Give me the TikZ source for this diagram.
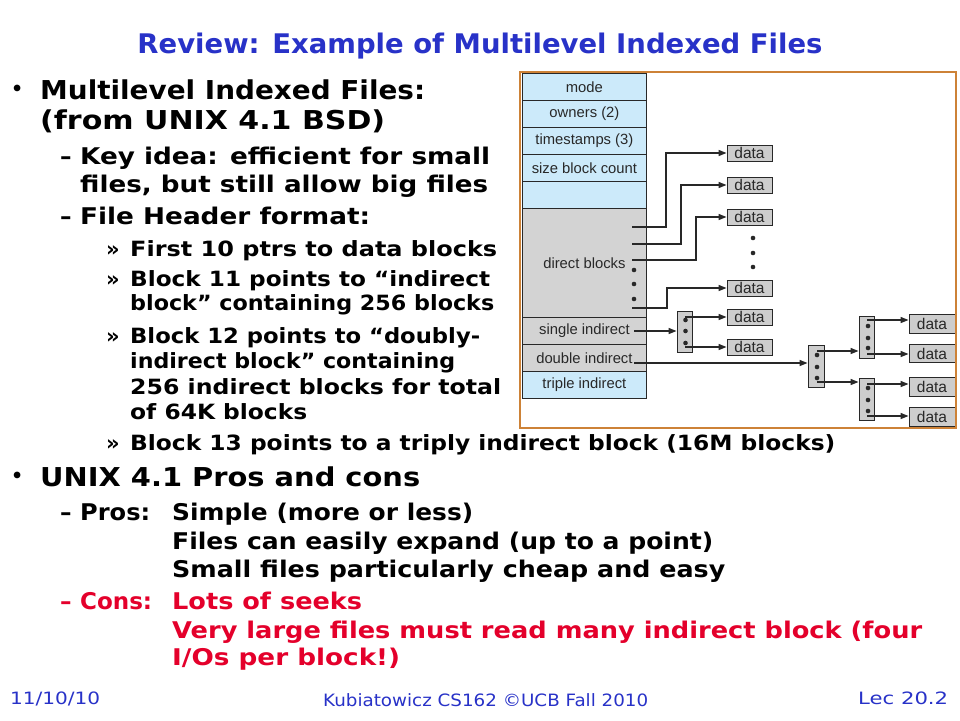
\documentclass[tikz,border=0pt]{standalone}
\usepackage{fontspec}
\usepackage{graphicx}
\setmainfont{DejaVu Sans}
\newfontfamily\diagfont{Liberation Sans}
\usetikzlibrary{arrows.meta}
\definecolor{ttl}{RGB}{40,50,200}
\definecolor{cred}{RGB}{228,0,43}
\definecolor{rowblue}{RGB}{204,234,250}
\definecolor{rowgray}{RGB}{211,211,211}
\definecolor{boxgray}{RGB}{205,205,205}
\definecolor{frameor}{RGB}{205,130,55}
\definecolor{ink}{RGB}{40,40,40}
\newcommand{\fw}[2]{\resizebox{#1}{\height}{#2}}
\tikzset{
  big/.style={anchor=base west,inner sep=0pt,font=\fontsize{26}{28}\bfseries\selectfont},
  med/.style={anchor=base west,inner sep=0pt,font=\fontsize{23}{25}\bfseries\selectfont},
  sml/.style={anchor=base west,inner sep=0pt,font=\fontsize{21}{23}\bfseries\selectfont},
  bul/.style={anchor=base west,inner sep=0pt,font=\fontsize{19}{19}\bfseries\selectfont},
  foot/.style={anchor=base west,inner sep=0pt,text=ttl,font=\fontsize{17}{19}\selectfont},
  row/.style={draw=ink,line width=0.8pt,minimum width=124pt,anchor=north west,inner sep=0pt,
    font=\diagfont\fontsize{14.8}{15}\selectfont,text=ink},
  databox/.style={draw=ink,fill=boxgray,line width=0.9pt,minimum width=45pt,minimum height=16pt,
    inner sep=0pt,font=\diagfont\fontsize{15.5}{15.5}\selectfont,text=ink},
  ibox/.style={draw=ink,fill=boxgray,line width=0.9pt,minimum width=15pt,inner sep=0pt},
  dotn/.style={circle,fill=ink,inner sep=0pt,minimum size=4.6pt},
  arr/.style={draw=ink,line width=1.3pt,-{Triangle[length=8pt,width=6pt]}},
}
\begin{document}
\begin{tikzpicture}[x=1pt,y=-1pt]
\useasboundingbox[fill=white] (0,0) rectangle (960,720);

% title
\node[anchor=base,inner sep=0pt,text=ttl,font=\fontsize{27}{29}\bfseries\selectfont] (title) at (480,53)
  {\fw{685pt}{Review: Example of Multilevel Indexed Files}};

% upper text
\node[bul] (b1) at (11,95) {•};
\node[big] (l1) at (40,99) {\fw{385pt}{Multilevel Indexed Files:}};
\node[big] (l2) at (40,129) {\fw{345pt}{(from UNIX 4.1 BSD)}};
\node[med] (d3) at (60,164) {–};
\node[med] (l3) at (80,164) {\fw{410pt}{Key idea: efficient for small}};
\node[med] (l4) at (80,192) {\fw{408pt}{files, but still allow big files}};
\node[med] (d5) at (60,224) {–};
\node[med] (l5) at (80,224) {\fw{290pt}{File Header format:}};
\node[sml] (r6) at (106,256) {»};
\node[sml] (l6) at (130,256) {\fw{367pt}{First 10 ptrs to data blocks}};
\node[sml] (r7) at (106,286) {»};
\node[sml] (l7) at (130,286) {\fw{360pt}{Block 11 points to “indirect}};
\node[sml] (l8) at (130,310) {\fw{364pt}{block” containing 256 blocks}};
\node[sml] (r9) at (106,343) {»};
\node[sml] (l9) at (130,343) {\fw{350pt}{Block 12 points to “doubly-}};
\node[sml] (l10) at (130,368) {\fw{325pt}{indirect block” containing}};
\node[sml] (l11) at (130,394) {\fw{371pt}{256 indirect blocks for total}};
\node[sml] (l12) at (130,419) {\fw{177pt}{of 64K blocks}};
\node[sml] (r13) at (106,450) {»};
\node[sml] (l13) at (130,450) {\fw{705pt}{Block 13 points to a triply indirect block (16M blocks)}};

% lower text
\node[bul] (b14) at (11,482) {•};
\node[big] (l14) at (40,486) {\fw{380pt}{UNIX 4.1 Pros and cons}};
\node[med] (d15) at (60,520) {–};
\node[med] (l15a) at (80,520) {\fw{70pt}{Pros:}};
\node[med] (l15) at (172,520) {\fw{301pt}{Simple (more or less)}};
\node[med] (l16) at (172,549) {\fw{541pt}{Files can easily expand (up to a point)}};
\node[med] (l17) at (172,577) {\fw{553pt}{Small files particularly cheap and easy}};
\node[med,text=cred] (d18) at (60,609) {–};
\node[med,text=cred] (l18a) at (80,609) {\fw{72pt}{Cons:}};
\node[med,text=cred] (l18) at (172,609) {\fw{190pt}{Lots of seeks}};
\node[med,text=cred] (l19) at (172,638) {\fw{750pt}{Very large files must read many indirect block (four}};
\node[med,text=cred] (l20) at (172,665) {\fw{228pt}{I/Os per block!)}};

% footer
\node[foot] (f1) at (10,704) {\fw{90pt}{11/10/10}};
\node[foot] (f2) at (323,706) {\fw{325pt}{Kubiatowicz CS162 ©UCB Fall 2010}};
\node[foot] (f3) at (858,704) {\fw{90pt}{Lec 20.2}};

% ---------- diagram ----------
\node[row,fill=rowblue,minimum height=27pt] (mode) at (522,73) {mode};
\node[row,fill=rowblue,minimum height=27pt] (owners) at (522,100) {owners (2)};
\node[row,fill=rowblue,minimum height=27pt] (ts) at (522,127) {timestamps (3)};
\node[row,fill=rowblue,minimum height=27pt] (size) at (522,154) {size block count};
\node[row,fill=rowblue,minimum height=27pt] (blank) at (522,181) {};
\node[row,fill=rowgray,minimum height=109pt] (direct) at (522,208) {direct blocks};
\node[row,fill=rowgray,minimum height=27pt] (single) at (522,317) {single indirect};
\node[row,fill=rowgray,minimum height=27pt] (double) at (522,344) {double indirect};
\node[row,fill=rowblue,minimum height=27pt] (triple) at (522,371) {triple indirect};

\node[dotn] (dd1) at (634,270) {};
\node[dotn] (dd2) at (634,284) {};
\node[dotn] (dd3) at (634,299) {};

% first column data boxes
\node[databox] (d1) at (749.5,153) {data};
\node[databox] (d2) at (749.5,185) {data};
\node[databox] (d3b) at (749.5,217) {data};
\node[dotn] (vd1) at (753,238) {};
\node[dotn] (vd2) at (753,253) {};
\node[dotn] (vd3) at (753,267) {};
\node[databox] (d4) at (749.5,288) {data};
\node[databox] (d5) at (749.5,317) {data};
\node[databox] (d6) at (749.5,347) {data};

% direct pointers
\coordinate (p1) at (632,227); \coordinate (k1) at (666,153);
\coordinate (p2) at (632,244); \coordinate (k2) at (681,185);
\coordinate (p3) at (632,260); \coordinate (k3) at (696,217);
\coordinate (p4) at (632,308); \coordinate (k4) at (667,288);
\draw[arr] (p1) -| (k1) -- (d1.west);
\draw[arr] (p2) -| (k2) -- (d2.west);
\draw[arr] (p3) -| (k3) -- (d3b.west);
\draw[arr] (p4) -| (k4) -- (d4.west);

% single indirect
\node[ibox,minimum height=41pt] (sb) at (684.5,331.5) {};
\node[dotn] (s1) at (685.5,320) {};
\node[dotn] (s2) at (685.5,331) {};
\node[dotn] (s3) at (685.5,343) {};
\coordinate (s0) at (634,331);
\draw[arr] (s0) -- (s0 -| sb.west);
\coordinate (sa) at (685,317);
\coordinate (sc) at (685,347);
\draw[arr] (sa) -- (d5.west);
\draw[arr] (sc) -- (d6.west);

% double indirect
\node[ibox,minimum width=16pt,minimum height=42pt] (db) at (816,366) {};
\node[dotn] (t1) at (817,355) {};
\node[dotn] (t2) at (817,367) {};
\node[dotn] (t3) at (817,378) {};
\coordinate (dd0) at (634,363);
\draw[arr] (dd0) -- (dd0 -| db.west);

\node[ibox,minimum height=42pt] (ba) at (866.5,337) {};
\node[dotn] (a1) at (868,326) {};
\node[dotn] (a2) at (868,338) {};
\node[dotn] (a3) at (868,348) {};
\node[ibox,minimum height=42pt] (bb) at (866.5,399) {};
\node[dotn] (c1) at (868,388) {};
\node[dotn] (c2) at (868,400) {};
\node[dotn] (c3) at (868,411) {};

\coordinate (da) at (817,351);
\coordinate (dc) at (817,382);
\draw[arr] (da) -- (da -| ba.west);
\draw[arr] (dc) -- (dc -| bb.west);

\node[databox,minimum width=46pt,minimum height=19pt] (r1) at (932,323.5) {data};
\node[databox,minimum width=46pt,minimum height=18pt] (r2) at (932,353.5) {data};
\node[databox,minimum width=46pt,minimum height=19pt] (r3) at (932,387) {data};
\node[databox,minimum width=46pt,minimum height=19pt] (r4) at (932,417) {data};

\coordinate (aa) at (867,320); \coordinate (ab) at (867,354);
\coordinate (ca) at (867,384); \coordinate (cb) at (867,416);
\draw[arr] (aa) -- (aa -| r1.west);
\draw[arr] (ab) -- (ab -| r2.west);
\draw[arr] (ca) -- (ca -| r3.west);
\draw[arr] (cb) -- (cb -| r4.west);

% frame
\node[draw=frameor,line width=2.2pt,anchor=north west,inner sep=0pt,minimum width=436pt,minimum height=356pt] (frame) at (519,71) {};
\end{tikzpicture}
\end{document}
